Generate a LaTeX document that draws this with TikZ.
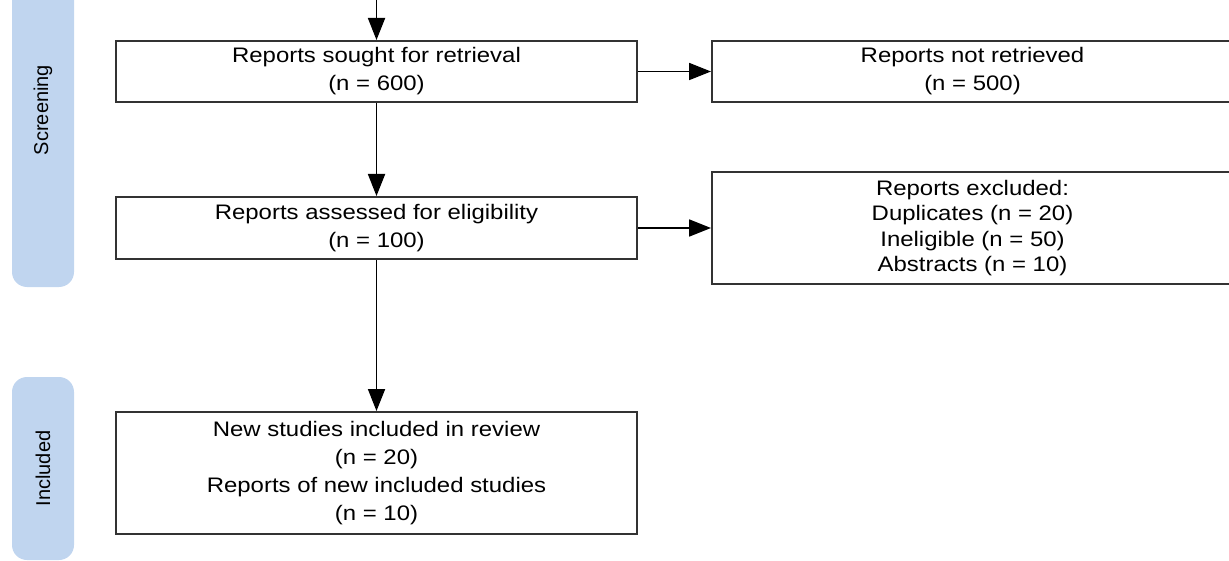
\documentclass[tikz,border=0pt]{standalone}
\usepackage{fontspec}
\setmainfont{Liberation Sans}[FakeStretch=1.14]
\newfontfamily\phasefont{Liberation Sans}
\usepackage{xcolor}
\usetikzlibrary{arrows.meta,positioning}
\definecolor{phaseblue}{HTML}{C0D5EF}
\definecolor{boxline}{HTML}{333333}
\tikzset{
  flow/.style={-{Triangle[length=11pt,width=8.5pt]},line width=0.9pt,draw=black},
  stagebox/.style={draw=boxline,line width=1pt,fill=white,align=center,
    minimum width=260.5pt,inner sep=0pt,
    font=\fontsize{10.5pt}{14pt}\selectfont},
  phase/.style={fill=phaseblue,rounded corners=7.5pt,rotate=90,
    minimum height=31pt,inner sep=0pt,font=\phasefont\fontsize{10pt}{12pt}\selectfont}
}

\begin{document}
\begin{tikzpicture}[x=0.5pt,y=-0.5pt]
  \path[use as bounding box,clip] (0,0) rectangle (1229,561);

  % phase bars on the left
  \node[phase,minimum width=177pt] (screening) at (43,110) {Screening};
  \node[phase,minimum width=91.5pt] (includedbar) at (43,468.5) {Included};

  % boxes
  \node[stagebox,minimum height=30.5pt] (retrieval) at (376.5,71.5)
    {Reports sought for retrieval\\(n = 600)};
  \node[stagebox,minimum height=30.5pt,right=36.5pt of retrieval] (notretrieved)
    {Reports not retrieved\\(n = 500)};
  \node[stagebox,minimum height=31pt,below=46.5pt of retrieval] (assessed)
    {Reports assessed for eligibility\\(n = 100)};
  \node[stagebox,minimum height=56pt,right=36.5pt of assessed,
    font=\fontsize{10.5pt}{12.8pt}\selectfont] (excluded)
    {Reports excluded:\\Duplicates (n = 20)\\Ineligible (n = 50)\\Abstracts (n = 10)};
  \node[stagebox,minimum height=61pt,below=75.5pt of assessed] (included)
    {New studies included in review\\(n = 20)\\Reports of new included studies\\(n = 10)};

  \coordinate (entry) at (retrieval.north |- 0,-20);

  \draw[flow] (entry) -- (retrieval.north);
  \draw[flow] (retrieval.east) -- (notretrieved.west);
  \draw[flow] (retrieval.south) -- (assessed.north);
  \draw[flow] (assessed.east) -- (assessed.east -| excluded.west);
  \draw[flow] (assessed.south) -- (included.north);
\end{tikzpicture}
\end{document}
